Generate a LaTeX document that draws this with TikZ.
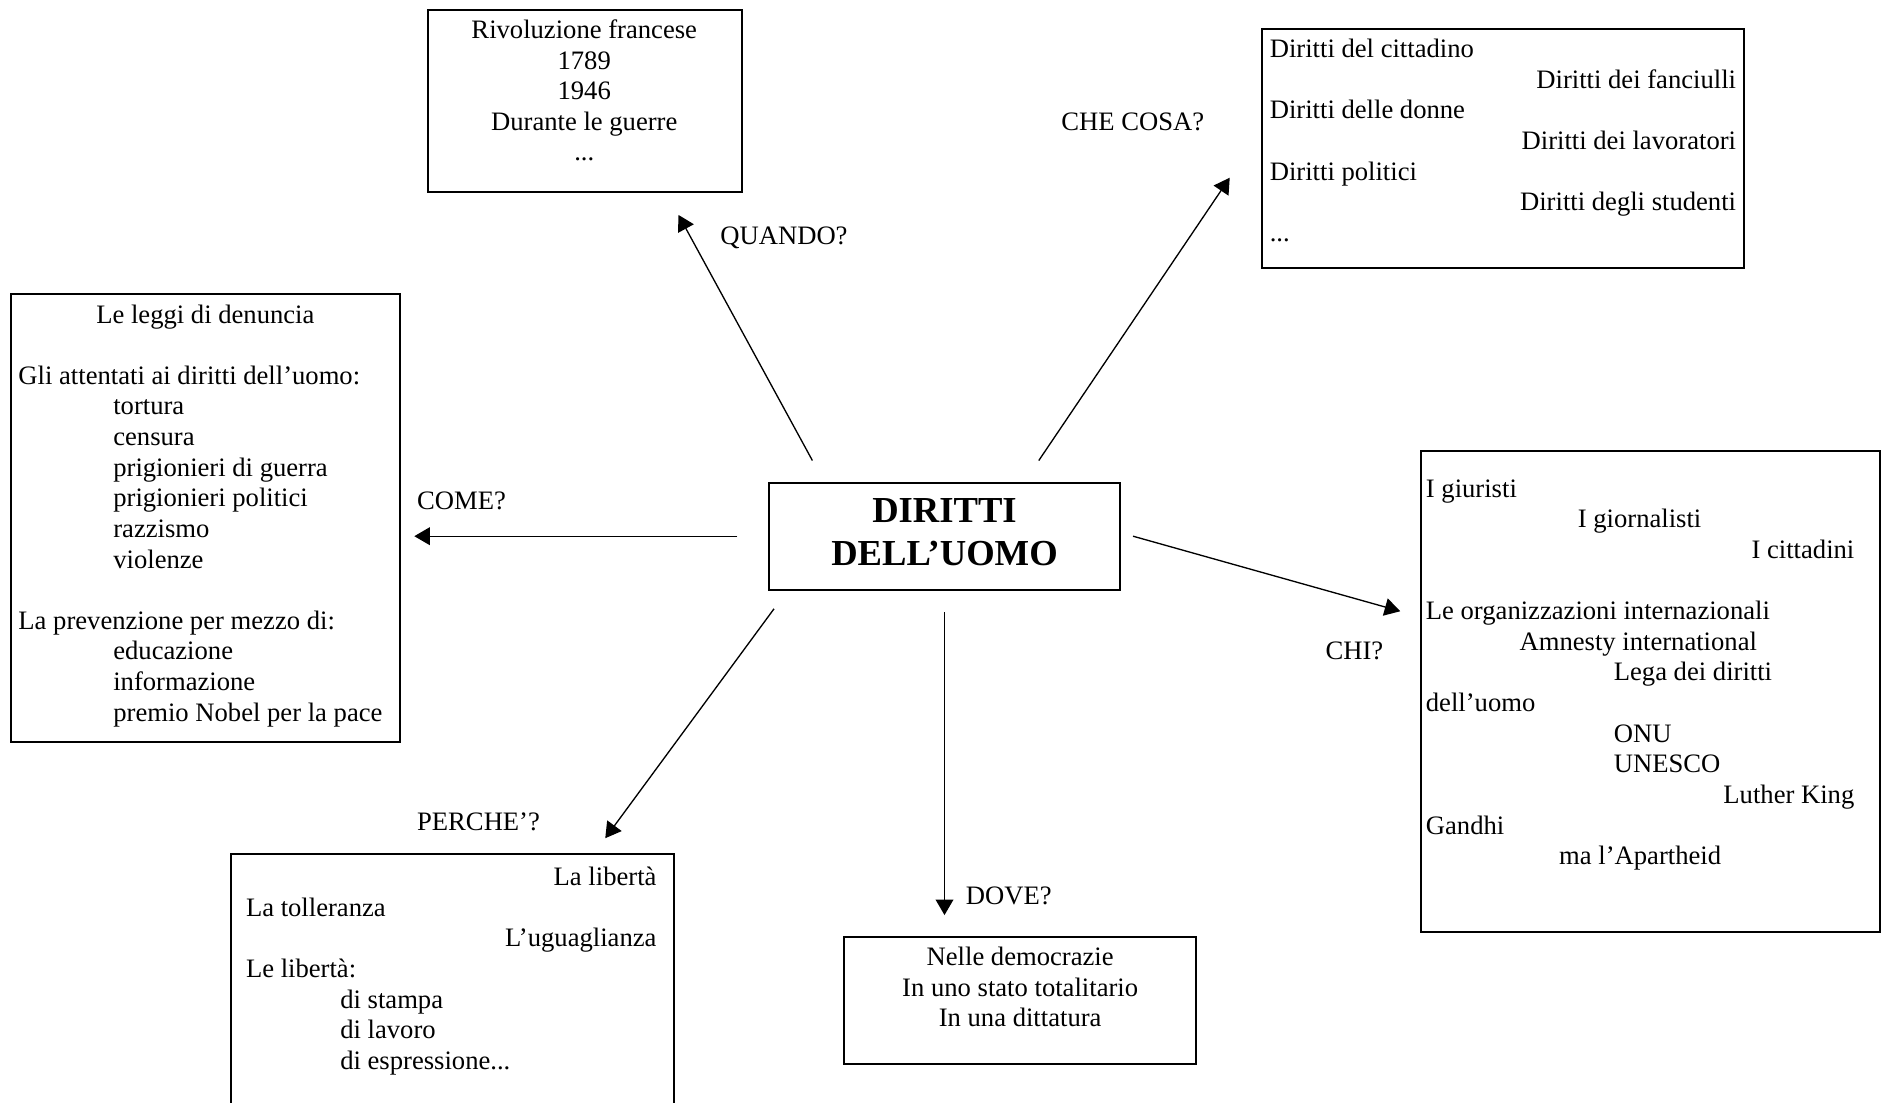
\documentclass[tikz,border=0pt]{standalone}
\usepackage{fontspec}
\setmainfont{Liberation Serif}
\usetikzlibrary{arrows.meta,fit}
\begin{document}
\begin{tikzpicture}[x=0.5412pt, y=-0.5412pt,
  frame/.style={draw, line width=0.9pt, inner sep=0pt},
  txt/.style={inner sep=0pt, font=\fontsize{12}{13.8}\selectfont},
  ttl/.style={inner sep=0pt, font=\fontsize{16.5}{19}\selectfont\bfseries},
  arr/.style={line width=0.6pt, -{Triangle[length=7pt,width=8pt]}},
]
\useasboundingbox (0,0) rectangle (1568,918);
\clip (0,0) rectangle (1568,918);

% ---------- boxes ----------
\node[frame, fit={(356,8)(617.5,160)}] (A) {};
\node[frame, fit={(1050.5,24)(1452.5,223)}] (B) {};
\node[frame, fit={(9,244.5)(333,617.5)}] (C) {};
\node[frame, fit={(640,402.5)(933,491)}] (D) {};
\node[frame, fit={(1183,375.5)(1565.5,776)}] (E) {};
\node[frame, fit={(192,711)(561,940)}] (F) {};
\node[frame, fit={(703,780.5)(996,886)}] (G) {};

% ---------- box A ----------
\node[txt, anchor=base] (a1) at (486.5,32) {Rivoluzione francese};
\node[txt, anchor=base] (a2) at (486.5,57.5) {1789};
\node[txt, anchor=base] (a3) at (486.5,83) {1946};
\node[txt, anchor=base] (a4) at (486.5,108.5) {Durante le guerre};
\node[txt, anchor=base] (a5) at (486.5,134) {...};

% ---------- box B ----------
\node[txt, anchor=base west] (b1) at (1057,48) {Diritti del cittadino};
\node[txt, anchor=base east] (b2) at (1446,73.5) {Diritti dei fanciulli};
\node[txt, anchor=base west] (b3) at (1057,99) {Diritti delle donne};
\node[txt, anchor=base east] (b4) at (1446,124.5) {Diritti dei lavoratori};
\node[txt, anchor=base west] (b5) at (1057,150) {Diritti politici};
\node[txt, anchor=base east] (b6) at (1446,175.5) {Diritti degli studenti};
\node[txt, anchor=base west] (b7) at (1057,201) {...};

% ---------- box C ----------
\node[txt, anchor=base] (c1) at (171,269) {Le leggi di denuncia};
\node[txt, anchor=base west] (c2) at (15,320) {Gli attentati ai diritti dell’uomo:};
\node[txt, anchor=base west] (c3) at (94,345.5) {tortura};
\node[txt, anchor=base west] (c4) at (94,371) {censura};
\node[txt, anchor=base west] (c5) at (94,396.5) {prigionieri di guerra};
\node[txt, anchor=base west] (c6) at (94,422) {prigionieri politici};
\node[txt, anchor=base west] (c7) at (94,447.5) {razzismo};
\node[txt, anchor=base west] (c8) at (94,473) {violenze};
\node[txt, anchor=base west] (c9) at (15,524) {La prevenzione per mezzo di:};
\node[txt, anchor=base west] (c10) at (94,549.5) {educazione};
\node[txt, anchor=base west] (c11) at (94,575) {informazione};
\node[txt, anchor=base west] (c12) at (94,600.5) {premio Nobel per la pace};

% ---------- box D ----------
\node[ttl, anchor=base] (t1) at (786.5,435) {DIRITTI};
\node[ttl, anchor=base] (t2) at (786.5,470.5) {DELL’UOMO};

% ---------- box E ----------
\node[txt, anchor=base west] (e1) at (1187,414) {I giuristi};
\node[txt, anchor=base west] (e2) at (1313.5,439.5) {I giornalisti};
\node[txt, anchor=base east] (e3) at (1544.5,465) {I cittadini};
\node[txt, anchor=base west] (e4) at (1187,516) {Le organizzazioni internazionali};
\node[txt, anchor=base west] (e5) at (1265,541.5) {Amnesty international};
\node[txt, anchor=base west] (e6) at (1343.5,567) {Lega dei diritti};
\node[txt, anchor=base west] (e7) at (1187,592.5) {dell’uomo};
\node[txt, anchor=base west] (e8) at (1343.5,618) {ONU};
\node[txt, anchor=base west] (e9) at (1343.5,643.5) {UNESCO};
\node[txt, anchor=base east] (e10) at (1544.5,669) {Luther King};
\node[txt, anchor=base west] (e11) at (1187,694.5) {Gandhi};
\node[txt, anchor=base west] (e12) at (1298,720) {ma l’Apartheid};

% ---------- box F ----------
\node[txt, anchor=base east] (f1) at (547,737.5) {La libertà};
\node[txt, anchor=base west] (f2) at (204.5,763) {La tolleranza};
\node[txt, anchor=base east] (f3) at (547,788.5) {L’uguaglianza};
\node[txt, anchor=base west] (f4) at (204.5,814) {Le libertà:};
\node[txt, anchor=base west] (f5) at (283,839.5) {di stampa};
\node[txt, anchor=base west] (f6) at (283,865) {di lavoro};
\node[txt, anchor=base west] (f7) at (283,890.5) {di espressione...};

% ---------- box G ----------
\node[txt, anchor=base] (g1) at (849.5,804) {Nelle democrazie};
\node[txt, anchor=base] (g2) at (849.5,829.5) {In uno stato totalitario};
\node[txt, anchor=base] (g3) at (849.5,855) {In una dittatura};

% ---------- connector labels ----------
\node[txt, anchor=base west] (lq) at (599.5,203.5) {QUANDO?};
\node[txt, anchor=base west] (lc) at (883.5,108.5) {CHE COSA?};
\node[txt, anchor=base west] (lm) at (347,424.5) {COME?};
\node[txt, anchor=base west] (lh) at (1103.5,549) {CHI?};
\node[txt, anchor=base west] (lp) at (347,691.5) {PERCHE’?};
\node[txt, anchor=base west] (ld) at (804,753) {DOVE?};

% ---------- connectors ----------
\coordinate (qs) at (676.5,383.5); \coordinate (qe) at (565,179);
\coordinate (cs) at (865,383.5);   \coordinate (ce) at (1024,148);
\coordinate (ms) at (614,446.5);   \coordinate (me) at (345,446.5);
\coordinate (hs) at (943.5,446.5); \coordinate (he) at (1166,509);
\coordinate (ps) at (644.5,507);   \coordinate (pe) at (504,698);
\coordinate (ds) at (786.5,510);   \coordinate (de) at (786.5,762);

\draw[arr] (qs) -- (qe);
\draw[arr] (cs) -- (ce);
\draw[arr] (ms) -- (me);
\draw[arr] (hs) -- (he);
\draw[arr] (ps) -- (pe);
\draw[arr] (ds) -- (de);
\end{tikzpicture}
\end{document}
